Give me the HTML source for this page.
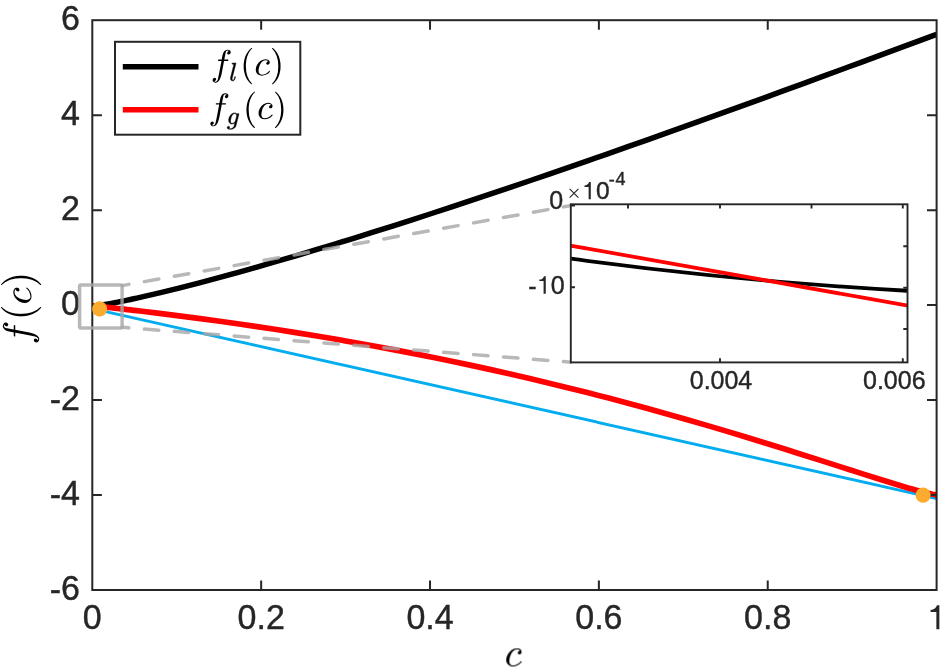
<!DOCTYPE html>
<html><head><meta charset="utf-8"><title>f(c)</title>
<style>
html,body{margin:0;padding:0;background:#fff;}
svg{display:block;}
text{font-family:"Liberation Sans",sans-serif;fill:#262626;stroke:#262626;stroke-width:0.4px;}
</style></head><body>
<svg width="946" height="668" viewBox="0 0 946 668">
<rect x="0" y="0" width="946" height="668" fill="#ffffff"/>
<g opacity="0.999">

<defs><clipPath id="cm"><rect x="92.3" y="20.2" width="844.3000000000001" height="569.8"/></clipPath>
<clipPath id="ci"><rect x="570.8" y="204.3" width="336.70000000000005" height="158.09999999999997"/></clipPath></defs>
<g clip-path="url(#cm)" fill="none" stroke-linejoin="round">
<path d="M92.3,308.55 L936.6,498.55" stroke="#00adef" stroke-width="2.9"/>
<path d="M92.35,306.20 L95.53,305.93 L98.70,305.51 L101.88,305.02 L105.06,304.50 L108.23,303.94 L111.41,303.35 L114.59,302.75 L117.76,302.12 L120.94,301.48 L124.12,300.83 L127.29,300.16 L130.47,299.49 L133.65,298.80 L136.82,298.09 L140.00,297.38 L159.49,292.85 L178.97,288.05 L198.46,283.05 L217.95,277.87 L237.44,272.54 L256.92,267.07 L276.41,261.48 L295.90,255.77 L315.38,249.96 L334.87,244.05 L354.36,238.05 L373.85,231.97 L393.33,225.80 L412.82,219.57 L432.31,213.25 L451.79,206.88 L471.28,200.43 L490.77,193.93 L510.26,187.37 L529.74,180.76 L549.23,174.09 L568.72,167.38 L588.21,160.61 L607.69,153.81 L627.18,146.96 L646.67,140.08 L666.15,133.15 L685.64,126.19 L705.13,119.20 L724.62,112.18 L744.10,105.13 L763.59,98.05 L783.08,90.95 L802.56,83.83 L822.05,76.68 L841.54,69.52 L861.03,62.34 L880.51,55.14 L900.00,47.93 L904.07,46.42 L908.13,44.91 L912.20,43.41 L916.27,41.90 L920.33,40.39 L924.40,38.88 L928.47,37.37 L932.53,35.86 L936.60,34.35" stroke="#000" stroke-width="5.5"/>
<path d="M92.35,305.71 L95.53,306.05 L98.70,306.39 L101.88,306.73 L105.06,307.08 L108.23,307.43 L111.41,307.78 L114.59,308.13 L117.76,308.49 L120.94,308.84 L124.12,309.20 L127.29,309.57 L130.47,309.93 L133.65,310.30 L136.82,310.67 L140.00,311.04 L159.49,313.38 L178.97,315.82 L198.46,318.35 L217.95,320.99 L237.44,323.73 L256.92,326.57 L276.41,329.53 L295.90,332.59 L315.38,335.76 L334.87,339.05 L354.36,342.45 L373.85,345.97 L393.33,349.60 L412.82,353.36 L432.31,357.24 L451.79,361.25 L471.28,365.38 L490.77,369.63 L510.26,374.02 L529.74,378.53 L549.23,383.17 L568.72,387.93 L588.21,392.83 L607.69,397.86 L627.18,403.01 L646.67,408.29 L666.15,413.69 L685.64,419.22 L705.13,424.87 L724.62,430.63 L744.10,436.50 L763.59,442.47 L783.08,448.53 L802.56,454.67 L822.05,460.87 L841.54,467.11 L861.03,473.34 L880.51,479.51 L900.00,485.52 L904.07,486.74 L908.13,487.93 L912.20,489.11 L916.27,490.25 L920.33,491.36 L924.40,492.42 L928.47,493.40 L932.53,494.28 L936.60,494.84" stroke="#ff0000" stroke-width="5.7"/>
</g>
<rect x="92.3" y="20.2" width="844.3000000000001" height="569.8" fill="none" stroke="#262626" stroke-width="2"/>
<path d="M261.16,590.0 v-9.6 M261.16,20.2 v9.6 M430.02,590.0 v-9.6 M430.02,20.2 v9.6 M598.88,590.0 v-9.6 M598.88,20.2 v9.6 M767.74,590.0 v-9.6 M767.74,20.2 v9.6 M92.3,115.17 h9.6 M936.6,115.17 h-9.6 M92.3,210.13 h9.6 M936.6,210.13 h-9.6 M92.3,305.10 h9.6 M936.6,305.10 h-9.6 M92.3,400.07 h9.6 M936.6,400.07 h-9.6 M92.3,495.03 h9.6 M936.6,495.03 h-9.6" fill="none" stroke="#262626" stroke-width="2"/>
<text transform="translate(92.30,629.40) scale(1,1.035)" font-size="34" text-anchor="middle">0</text>
<text transform="translate(261.16,629.40) scale(1,1.035)" font-size="34" text-anchor="middle">0.2</text>
<text transform="translate(430.02,629.40) scale(1,1.035)" font-size="34" text-anchor="middle">0.4</text>
<text transform="translate(598.88,629.40) scale(1,1.035)" font-size="34" text-anchor="middle">0.6</text>
<text transform="translate(767.74,629.40) scale(1,1.035)" font-size="34" text-anchor="middle">0.8</text>
<path d="M271,0 L271,505 L101,505 L101,566 C205,570 262,622 291,703 L359,703 L359,0 Z" fill="#262626" stroke="none" transform="translate(927.15,629.20) scale(0.03400,-0.03400)"/>
<text transform="translate(80.00,30.10) scale(1,1.035)" font-size="34" text-anchor="end">6</text>
<text transform="translate(80.00,125.07) scale(1,1.035)" font-size="34" text-anchor="end">4</text>
<text transform="translate(80.00,220.03) scale(1,1.035)" font-size="34" text-anchor="end">2</text>
<text transform="translate(80.00,315.00) scale(1,1.035)" font-size="34" text-anchor="end">0</text>
<text transform="translate(80.00,409.97) scale(1,1.035)" font-size="34" text-anchor="end"><tspan dy="0.9">-</tspan><tspan dy="-0.9">2</tspan></text>
<text transform="translate(80.00,504.93) scale(1,1.035)" font-size="34" text-anchor="end"><tspan dy="0.9">-</tspan><tspan dy="-0.9">4</tspan></text>
<text transform="translate(80.00,599.90) scale(1,1.035)" font-size="34" text-anchor="end"><tspan dy="0.9">-</tspan><tspan dy="-0.9">6</tspan></text>
<g fill="#000">
<path d="M240 244Q240 155 286 93Q331 31 416 31Q538 31 650 87Q763 143 834 242Q840 248 850 248Q860 248 870 236Q881 225 881 215Q881 207 877 203Q802 98 675 38Q548 -23 412 -23Q314 -23 239 24Q164 70 123 148Q82 226 82 324Q82 462 159 598Q236 734 364 820Q492 905 633 905Q725 905 798 860Q872 816 872 729Q872 673 840 634Q807 594 752 594Q719 594 696 614Q674 635 674 668Q674 716 709 750Q744 784 791 784H795Q771 819 726 836Q680 852 631 852Q511 852 421 750Q331 647 286 504Q240 362 240 244Z" transform="translate(504.60,666.05) scale(0.01948,-0.01948)"/>
<g transform="translate(31.0,0) rotate(-90)">
<path d="M199 -338Q237 -367 291 -367Q364 -367 410 -205Q429 -127 514 309L608 811H432Q412 811 412 838Q420 883 438 883H621L645 1016Q657 1078 667 1122Q677 1167 688 1205Q700 1243 723 1290Q758 1357 818 1400Q877 1444 946 1444Q991 1444 1034 1428Q1076 1411 1103 1378Q1130 1345 1130 1300Q1130 1248 1096 1210Q1061 1171 1012 1171Q979 1171 956 1192Q932 1212 932 1245Q932 1290 962 1324Q993 1357 1038 1362Q1000 1391 944 1391Q913 1391 886 1362Q858 1333 850 1300Q837 1248 793 1018L768 883H979Q999 883 999 856Q998 851 995 838Q992 826 986 818Q981 811 973 811H754L659 311Q641 202 618 90Q594 -23 552 -142Q509 -260 443 -340Q377 -420 287 -420Q218 -420 164 -380Q109 -341 109 -276Q109 -224 142 -186Q176 -147 227 -147Q261 -147 284 -168Q307 -188 307 -221Q307 -265 274 -302Q242 -338 199 -338Z" transform="translate(-344.50,0.00) scale(0.01948,-0.01948)"/>
<path d="M635 -508Q521 -418 438 -302Q356 -185 304 -53Q251 79 225 223Q199 367 199 512Q199 659 225 803Q251 947 304 1080Q358 1213 441 1329Q524 1445 635 1532Q635 1536 645 1536H664Q670 1536 675 1530Q680 1525 680 1518Q680 1509 676 1505Q576 1407 510 1295Q443 1183 402 1056Q362 930 344 794Q326 659 326 512Q326 -139 674 -477Q680 -483 680 -494Q680 -499 674 -506Q669 -512 664 -512H645Q635 -512 635 -508Z" transform="translate(-320.20,0.00) scale(0.01948,-0.01948)"/>
<path d="M240 244Q240 155 286 93Q331 31 416 31Q538 31 650 87Q763 143 834 242Q840 248 850 248Q860 248 870 236Q881 225 881 215Q881 207 877 203Q802 98 675 38Q548 -23 412 -23Q314 -23 239 24Q164 70 123 148Q82 226 82 324Q82 462 159 598Q236 734 364 820Q492 905 633 905Q725 905 798 860Q872 816 872 729Q872 673 840 634Q807 594 752 594Q719 594 696 614Q674 635 674 668Q674 716 709 750Q744 784 791 784H795Q771 819 726 836Q680 852 631 852Q511 852 421 750Q331 647 286 504Q240 362 240 244Z" transform="translate(-304.60,0.00) scale(0.01948,-0.01948)"/>
<path d="M133 -512Q115 -512 115 -494Q115 -485 119 -481Q469 -139 469 512Q469 1163 123 1501Q115 1506 115 1518Q115 1525 120 1530Q126 1536 133 1536H152Q158 1536 162 1532Q309 1416 407 1250Q505 1084 550 896Q596 708 596 512Q596 367 572 226Q547 86 494 -50Q440 -187 358 -302Q276 -418 162 -508Q158 -512 152 -512Z" transform="translate(-287.30,0.00) scale(0.01948,-0.01948)"/>
</g></g>
<rect x="79.6" y="284.9" width="42.5" height="43" fill="none" stroke="rgba(166,166,166,0.8)" stroke-width="3.5" stroke-linejoin="round" rx="1.2"/>
<path d="M122.1,285.6 L571.0,205.5" fill="none" stroke="rgba(166,166,166,0.8)" stroke-width="3.5" stroke-dasharray="14.7 15.7" stroke-dashoffset="7.8" stroke-linecap="round"/>
<path d="M122.1,327.3 L571.0,362.2" fill="none" stroke="rgba(166,166,166,0.8)" stroke-width="3.5" stroke-dasharray="14.45 15.57" stroke-dashoffset="7.7" stroke-linecap="round"/>
<circle cx="99.65" cy="308.9" r="7.55" fill="#fbab2d"/>
<circle cx="923.1" cy="495.1" r="7.55" fill="#fbab2d"/>
<rect x="115" y="41.8" width="185.3" height="92.9" fill="#fff" stroke="#262626" stroke-width="2"/>
<path d="M122.8,66.75 H198.5" stroke="#000" stroke-width="5.5"/>
<path d="M122.8,109.75 H198.5" stroke="#ff0000" stroke-width="5.5"/>
<g fill="#000">
<path d="M199 -338Q237 -367 291 -367Q364 -367 410 -205Q429 -127 514 309L608 811H432Q412 811 412 838Q420 883 438 883H621L645 1016Q657 1078 667 1122Q677 1167 688 1205Q700 1243 723 1290Q758 1357 818 1400Q877 1444 946 1444Q991 1444 1034 1428Q1076 1411 1103 1378Q1130 1345 1130 1300Q1130 1248 1096 1210Q1061 1171 1012 1171Q979 1171 956 1192Q932 1212 932 1245Q932 1290 962 1324Q993 1357 1038 1362Q1000 1391 944 1391Q913 1391 886 1362Q858 1333 850 1300Q837 1248 793 1018L768 883H979Q999 883 999 856Q998 851 995 838Q992 826 986 818Q981 811 973 811H754L659 311Q641 202 618 90Q594 -23 552 -142Q509 -260 443 -340Q377 -420 287 -420Q218 -420 164 -380Q109 -341 109 -276Q109 -224 142 -186Q176 -147 227 -147Q261 -147 284 -168Q307 -188 307 -221Q307 -265 274 -302Q242 -338 199 -338Z" transform="translate(210.70,75.25) scale(0.01772,-0.01772)"/>
<path d="M90 166Q90 172 92 184Q93 196 94 208Q96 219 96 225L350 1239Q358 1274 360 1294Q360 1327 227 1327Q207 1327 207 1354Q208 1359 212 1372Q215 1385 220 1392Q226 1399 236 1399L512 1421Q537 1421 537 1395L242 217Q227 184 227 119Q227 31 287 31Q350 31 382 110Q413 188 438 301Q442 313 455 313H479Q487 313 492 306Q498 300 498 293Q474 194 454 136Q435 79 392 28Q349 -23 283 -23Q201 -23 146 30Q90 83 90 166Z" stroke="#000" stroke-width="36" transform="translate(229.30,80.55) scale(0.01240,-0.01240)"/>
<path d="M635 -508Q521 -418 438 -302Q356 -185 304 -53Q251 79 225 223Q199 367 199 512Q199 659 225 803Q251 947 304 1080Q358 1213 441 1329Q524 1445 635 1532Q635 1536 645 1536H664Q670 1536 675 1530Q680 1525 680 1518Q680 1509 676 1505Q576 1407 510 1295Q443 1183 402 1056Q362 930 344 794Q326 659 326 512Q326 -139 674 -477Q680 -483 680 -494Q680 -499 674 -506Q669 -512 664 -512H645Q635 -512 635 -508Z" transform="translate(240.10,75.25) scale(0.01772,-0.01772)"/>
<path d="M240 244Q240 155 286 93Q331 31 416 31Q538 31 650 87Q763 143 834 242Q840 248 850 248Q860 248 870 236Q881 225 881 215Q881 207 877 203Q802 98 675 38Q548 -23 412 -23Q314 -23 239 24Q164 70 123 148Q82 226 82 324Q82 462 159 598Q236 734 364 820Q492 905 633 905Q725 905 798 860Q872 816 872 729Q872 673 840 634Q807 594 752 594Q719 594 696 614Q674 635 674 668Q674 716 709 750Q744 784 791 784H795Q771 819 726 836Q680 852 631 852Q511 852 421 750Q331 647 286 504Q240 362 240 244Z" transform="translate(254.30,75.25) scale(0.01772,-0.01772)"/>
<path d="M133 -512Q115 -512 115 -494Q115 -485 119 -481Q469 -139 469 512Q469 1163 123 1501Q115 1506 115 1518Q115 1525 120 1530Q126 1536 133 1536H152Q158 1536 162 1532Q309 1416 407 1250Q505 1084 550 896Q596 708 596 512Q596 367 572 226Q547 86 494 -50Q440 -187 358 -302Q276 -418 162 -508Q158 -512 152 -512Z" transform="translate(270.00,75.25) scale(0.01772,-0.01772)"/>
<path d="M199 -338Q237 -367 291 -367Q364 -367 410 -205Q429 -127 514 309L608 811H432Q412 811 412 838Q420 883 438 883H621L645 1016Q657 1078 667 1122Q677 1167 688 1205Q700 1243 723 1290Q758 1357 818 1400Q877 1444 946 1444Q991 1444 1034 1428Q1076 1411 1103 1378Q1130 1345 1130 1300Q1130 1248 1096 1210Q1061 1171 1012 1171Q979 1171 956 1192Q932 1212 932 1245Q932 1290 962 1324Q993 1357 1038 1362Q1000 1391 944 1391Q913 1391 886 1362Q858 1333 850 1300Q837 1248 793 1018L768 883H979Q999 883 999 856Q998 851 995 838Q992 826 986 818Q981 811 973 811H754L659 311Q641 202 618 90Q594 -23 552 -142Q509 -260 443 -340Q377 -420 287 -420Q218 -420 164 -380Q109 -341 109 -276Q109 -224 142 -186Q176 -147 227 -147Q261 -147 284 -168Q307 -188 307 -221Q307 -265 274 -302Q242 -338 199 -338Z" transform="translate(208.40,118.90) scale(0.01772,-0.01772)"/>
<path d="M29 -293Q29 -243 64 -206Q98 -168 147 -168Q180 -168 202 -188Q225 -209 225 -242Q225 -279 204 -308Q183 -338 150 -350Q205 -367 322 -367Q416 -367 494 -294Q572 -222 596 -127L655 113Q544 0 424 0Q336 0 274 45Q211 90 178 165Q145 240 145 324Q145 418 184 521Q222 624 292 712Q361 800 451 852Q541 905 641 905Q701 905 749 872Q797 839 825 784Q845 864 913 864Q939 864 957 848Q975 833 975 807Q975 801 974 798Q974 795 973 791L739 -139Q723 -203 680 -256Q637 -309 579 -344Q521 -380 452 -400Q383 -420 319 -420Q202 -420 116 -398Q29 -375 29 -293ZM428 53Q559 53 686 233L799 680Q785 751 743 802Q701 852 637 852Q569 852 508 796Q448 741 408 664Q370 590 334 452Q299 313 299 233Q299 163 331 108Q363 53 428 53Z" stroke="#000" stroke-width="36" transform="translate(226.80,124.10) scale(0.01240,-0.01240)"/>
<path d="M635 -508Q521 -418 438 -302Q356 -185 304 -53Q251 79 225 223Q199 367 199 512Q199 659 225 803Q251 947 304 1080Q358 1213 441 1329Q524 1445 635 1532Q635 1536 645 1536H664Q670 1536 675 1530Q680 1525 680 1518Q680 1509 676 1505Q576 1407 510 1295Q443 1183 402 1056Q362 930 344 794Q326 659 326 512Q326 -139 674 -477Q680 -483 680 -494Q680 -499 674 -506Q669 -512 664 -512H645Q635 -512 635 -508Z" transform="translate(242.90,118.90) scale(0.01772,-0.01772)"/>
<path d="M240 244Q240 155 286 93Q331 31 416 31Q538 31 650 87Q763 143 834 242Q840 248 850 248Q860 248 870 236Q881 225 881 215Q881 207 877 203Q802 98 675 38Q548 -23 412 -23Q314 -23 239 24Q164 70 123 148Q82 226 82 324Q82 462 159 598Q236 734 364 820Q492 905 633 905Q725 905 798 860Q872 816 872 729Q872 673 840 634Q807 594 752 594Q719 594 696 614Q674 635 674 668Q674 716 709 750Q744 784 791 784H795Q771 819 726 836Q680 852 631 852Q511 852 421 750Q331 647 286 504Q240 362 240 244Z" transform="translate(257.10,118.90) scale(0.01772,-0.01772)"/>
<path d="M133 -512Q115 -512 115 -494Q115 -485 119 -481Q469 -139 469 512Q469 1163 123 1501Q115 1506 115 1518Q115 1525 120 1530Q126 1536 133 1536H152Q158 1536 162 1532Q309 1416 407 1250Q505 1084 550 896Q596 708 596 512Q596 367 572 226Q547 86 494 -50Q440 -187 358 -302Q276 -418 162 -508Q158 -512 152 -512Z" transform="translate(272.90,118.90) scale(0.01772,-0.01772)"/>
</g>
<rect x="570.8" y="204.3" width="336.70000000000005" height="158.09999999999997" fill="#fff" stroke="none"/>
<g clip-path="url(#ci)" fill="none">
<path d="M570,258.55 L571,258.69 Q739.1,281.4 907.2,290.75 L908,290.8" stroke="#000" stroke-width="3.8"/>
<path d="M570,245.5 L908,305.65" stroke="#ff0000" stroke-width="3.8"/>
</g>
<rect x="570.8" y="204.3" width="336.70000000000005" height="158.09999999999997" fill="none" stroke="#262626" stroke-width="1.9"/>
<path d="M628.0,204.3 v4.2 M720.0,204.3 v4.2 M811.5,204.3 v4.2 M902.8,204.3 v4.2 M720.0,362.4 v-4.2 M902.8,362.4 v-4.2 M570.8,287.2 h4.2 M570.8,205.6 h4.2 M907.5,246.2 h-4.2 M907.5,287.7 h-4.2 M907.5,329.0 h-4.2" fill="none" stroke="#262626" stroke-width="1.9"/>
<text transform="translate(563.20,208.80) scale(1,1.035)" font-size="25" text-anchor="end">0</text>
<text transform="translate(564.60,293.90) scale(1,1.035)" font-size="25" text-anchor="end">0</text>
<path d="M271,0 L271,505 L101,505 L101,566 C205,570 262,622 291,703 L359,703 L359,0 Z" fill="#262626" stroke="none" transform="translate(536.80,293.70) scale(0.02500,-0.02500)"/>
<text transform="translate(536.50,294.50) scale(1,1.035)" font-size="25" text-anchor="end">-</text>
<text transform="translate(721.00,388.90) scale(1,1.035)" font-size="25" text-anchor="middle">0.004</text>
<text transform="translate(894.30,388.90) scale(1,1.035)" font-size="25" text-anchor="middle">0.006</text>
<path d="M569.6,188.8 l8.8,8.8 M578.4,188.8 l-8.8,8.8" stroke="#262626" stroke-width="1.1" fill="none"/>
<path d="M271,0 L271,505 L101,505 L101,566 C205,570 262,622 291,703 L359,703 L359,0 Z" fill="#262626" stroke="none" transform="translate(582.00,199.30) scale(0.02450,-0.02450)"/>
<text x="596.12" y="199.4" font-size="24.5">0</text>
<text x="608.7" y="185.0" font-size="18"><tspan dy="0.9">-</tspan><tspan dy="-0.9" dx="0.9">4</tspan></text>
</g></svg></body></html>
